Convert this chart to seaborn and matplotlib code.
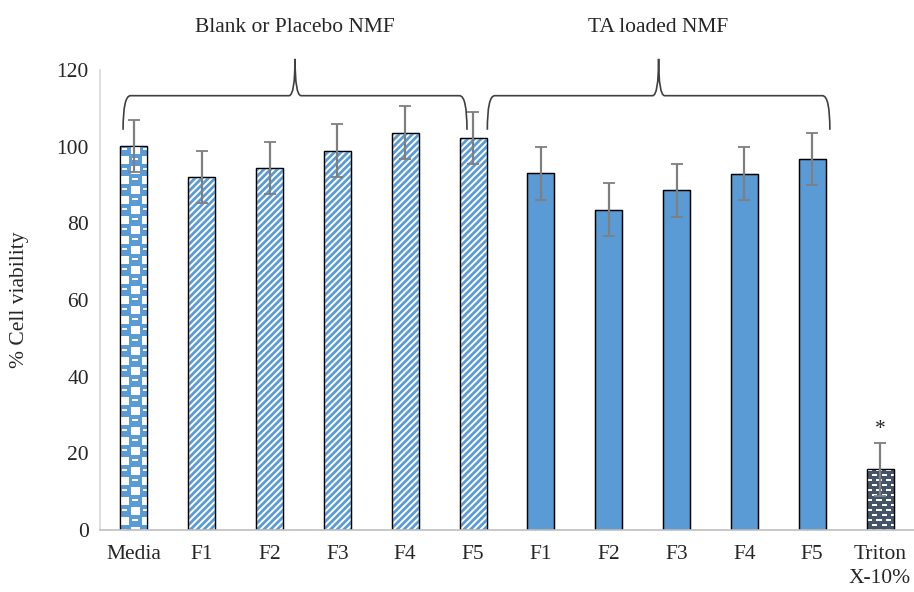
import numpy as np
import pandas as pd
import matplotlib
matplotlib.use("Agg")
import matplotlib.pyplot as plt
import seaborn as sns
from matplotlib.patches import Rectangle, PathPatch
from matplotlib.path import Path

# --- data ---
slots = ["Media", "B-F1", "B-F2", "B-F3", "B-F4", "B-F5",
         "T-F1", "T-F2", "T-F3", "T-F4", "T-F5", "Triton"]
tick_labels = ["Media", "F1", "F2", "F3", "F4", "F5",
               "F1", "F2", "F3", "F4", "F5", "Triton\nX-10%"]
viability = [100.2, 92.1, 94.5, 98.9, 103.6, 102.2,
             93.1, 83.5, 88.6, 92.9, 96.7, 15.9]
errors = [6.7, 6.8, 6.8, 6.9, 6.9, 6.8,
          6.9, 6.9, 6.9, 6.9, 6.8, 6.9]
group_labels = ["Blank or Placebo NMF", "TA loaded NMF"]
brace_spans = [(-0.16, 4.91), (5.21, 10.26)]

BLUE = "#5B9BD5"
NAVY = "#44546A"
FS = 15.5

sns.set_style("white")
plt.rcParams["font.family"] = ["Liberation Serif", "DejaVu Serif"]
plt.rcParams["hatch.linewidth"] = 2.0

df = pd.DataFrame({"slot": slots, "viability": viability})
kinds = ["checker"] + ["stripe"] * 5 + ["solid"] * 5 + ["brick"]
face = {"checker": "white", "stripe": "white", "solid": BLUE, "brick": NAVY}
palette = {s: face[k] for s, k in zip(slots, kinds)}

fig = plt.figure(figsize=(9.14, 5.92), dpi=100)
ax = fig.add_axes([100 / 914, 62 / 592, 814 / 914, 460 / 592])

sns.barplot(data=df, x="slot", y="viability", hue="slot", palette=palette,
            order=slots, width=0.4, errorbar=None, legend=False, saturation=1,
            edgecolor="black", linewidth=0.9, ax=ax)
ax.set_xlim(-0.5, 11.5)
ax.set_ylim(0, 120)


def texture(kind, w, h):
    """pixel texture for patterned bars (row 0 = top)"""
    yy, xx = np.mgrid[0:h, 0:w]
    img = np.ones((h, w, 3))
    blue = np.array(matplotlib.colors.to_rgb(BLUE))
    navy = np.array(matplotlib.colors.to_rgb(NAVY))
    if kind == "checker":
        img[:] = blue
        cx, cy = xx // 10, yy // 10
        px, py = xx % 10, yy % 10
        white = ((cx + cy) % 2 == 1) & (px >= 1) & (px < 9) & (py >= 1) & (py < 9)
        img[white] = 1.0
        dash = ((cx + cy) % 2 == 0) & (py >= 3) & (py < 5) & (px >= 2) & (px < 7)
        img[dash] = 1.0
    elif kind == "brick":
        img[:] = navy
        row = yy // 5
        shift = (row % 2) * 4
        dash = (((xx + shift) % 9) < 5) & ((yy % 5) < 2)
        img[dash] = 1.0
    return img


fig.canvas.draw()
for patch, kind in zip(ax.patches, kinds):
    x0, y0 = patch.get_x(), patch.get_y()
    bw, bh = patch.get_width(), patch.get_height()
    if kind in ("checker", "brick"):
        p0 = ax.transData.transform((x0, y0))
        p1 = ax.transData.transform((x0 + bw, y0 + bh))
        w = max(int(round(p1[0] - p0[0])), 1)
        h = max(int(round(p1[1] - p0[1])), 1)
        im = ax.imshow(texture(kind, w, h), extent=[x0, x0 + bw, y0, y0 + bh],
                       origin="upper", aspect="auto", interpolation="nearest",
                       zorder=patch.get_zorder() + 0.1)
        im.set_clip_path(patch)
    elif kind == "stripe":
        ax.add_patch(Rectangle((x0, y0), bw, bh, facecolor="none", edgecolor=BLUE,
                               linewidth=0, hatch="/////",
                               zorder=patch.get_zorder() + 0.1))
    ax.add_patch(Rectangle((x0, y0), bw, bh, facecolor="none", edgecolor="black",
                           linewidth=0.9, zorder=patch.get_zorder() + 0.2))

ax.set_xlim(-0.5, 11.5)
ax.set_ylim(0, 120)

pos = np.arange(len(slots))
ax.errorbar(pos, viability, yerr=errors, fmt="none", ecolor="#7f7f7f",
            elinewidth=1.6, capsize=4, capthick=1.3, zorder=6)

ax.text(pos[-1], viability[-1] + errors[-1] + 1.0, "*", ha="center", va="bottom",
        fontsize=FS)


def brace(x_left, x_right, y_low=104.4, y_mid=113.3, y_top=122.9):
    xm = (x_left + x_right) / 2
    d = 0.11
    e = 0.09
    verts = [(x_left, y_low), (x_left, y_mid), (x_left + d, y_mid),
             (xm - e, y_mid), (xm, y_mid), (xm, y_top),
             (xm, y_mid), (xm + e, y_mid),
             (x_right - d, y_mid), (x_right, y_mid), (x_right, y_low)]
    codes = [Path.MOVETO, Path.CURVE3, Path.CURVE3,
             Path.LINETO, Path.CURVE3, Path.CURVE3,
             Path.CURVE3, Path.CURVE3,
             Path.LINETO, Path.CURVE3, Path.CURVE3]
    ax.add_patch(PathPatch(Path(verts, codes), facecolor="none", edgecolor="#404040",
                           linewidth=1.2, clip_on=False, zorder=7))
    return xm


for (a, b), lab in zip(brace_spans, group_labels):
    xm = brace(a, b)
    ax.text(xm, 131.0, lab, ha="center", va="center", fontsize=FS, clip_on=False)

ax.set_xticks(pos)
ax.set_xticklabels(tick_labels, fontsize=FS, linespacing=1.35)
ax.set_yticks(np.arange(0, 121, 20))
ax.tick_params(axis="y", labelsize=FS, length=0, pad=8)
ax.tick_params(axis="x", length=0, pad=11)
ax.set_xlabel("")
ax.set_ylabel("% Cell viability", fontsize=FS, labelpad=20)

for side in ("top", "right"):
    ax.spines[side].set_visible(False)
ax.spines["left"].set_color("#d9d9d9")
ax.spines["bottom"].set_color("#bfbfbf")
ax.spines["left"].set_linewidth(1.2)
ax.spines["bottom"].set_linewidth(1.2)

fig.savefig("out.png", dpi=100)
